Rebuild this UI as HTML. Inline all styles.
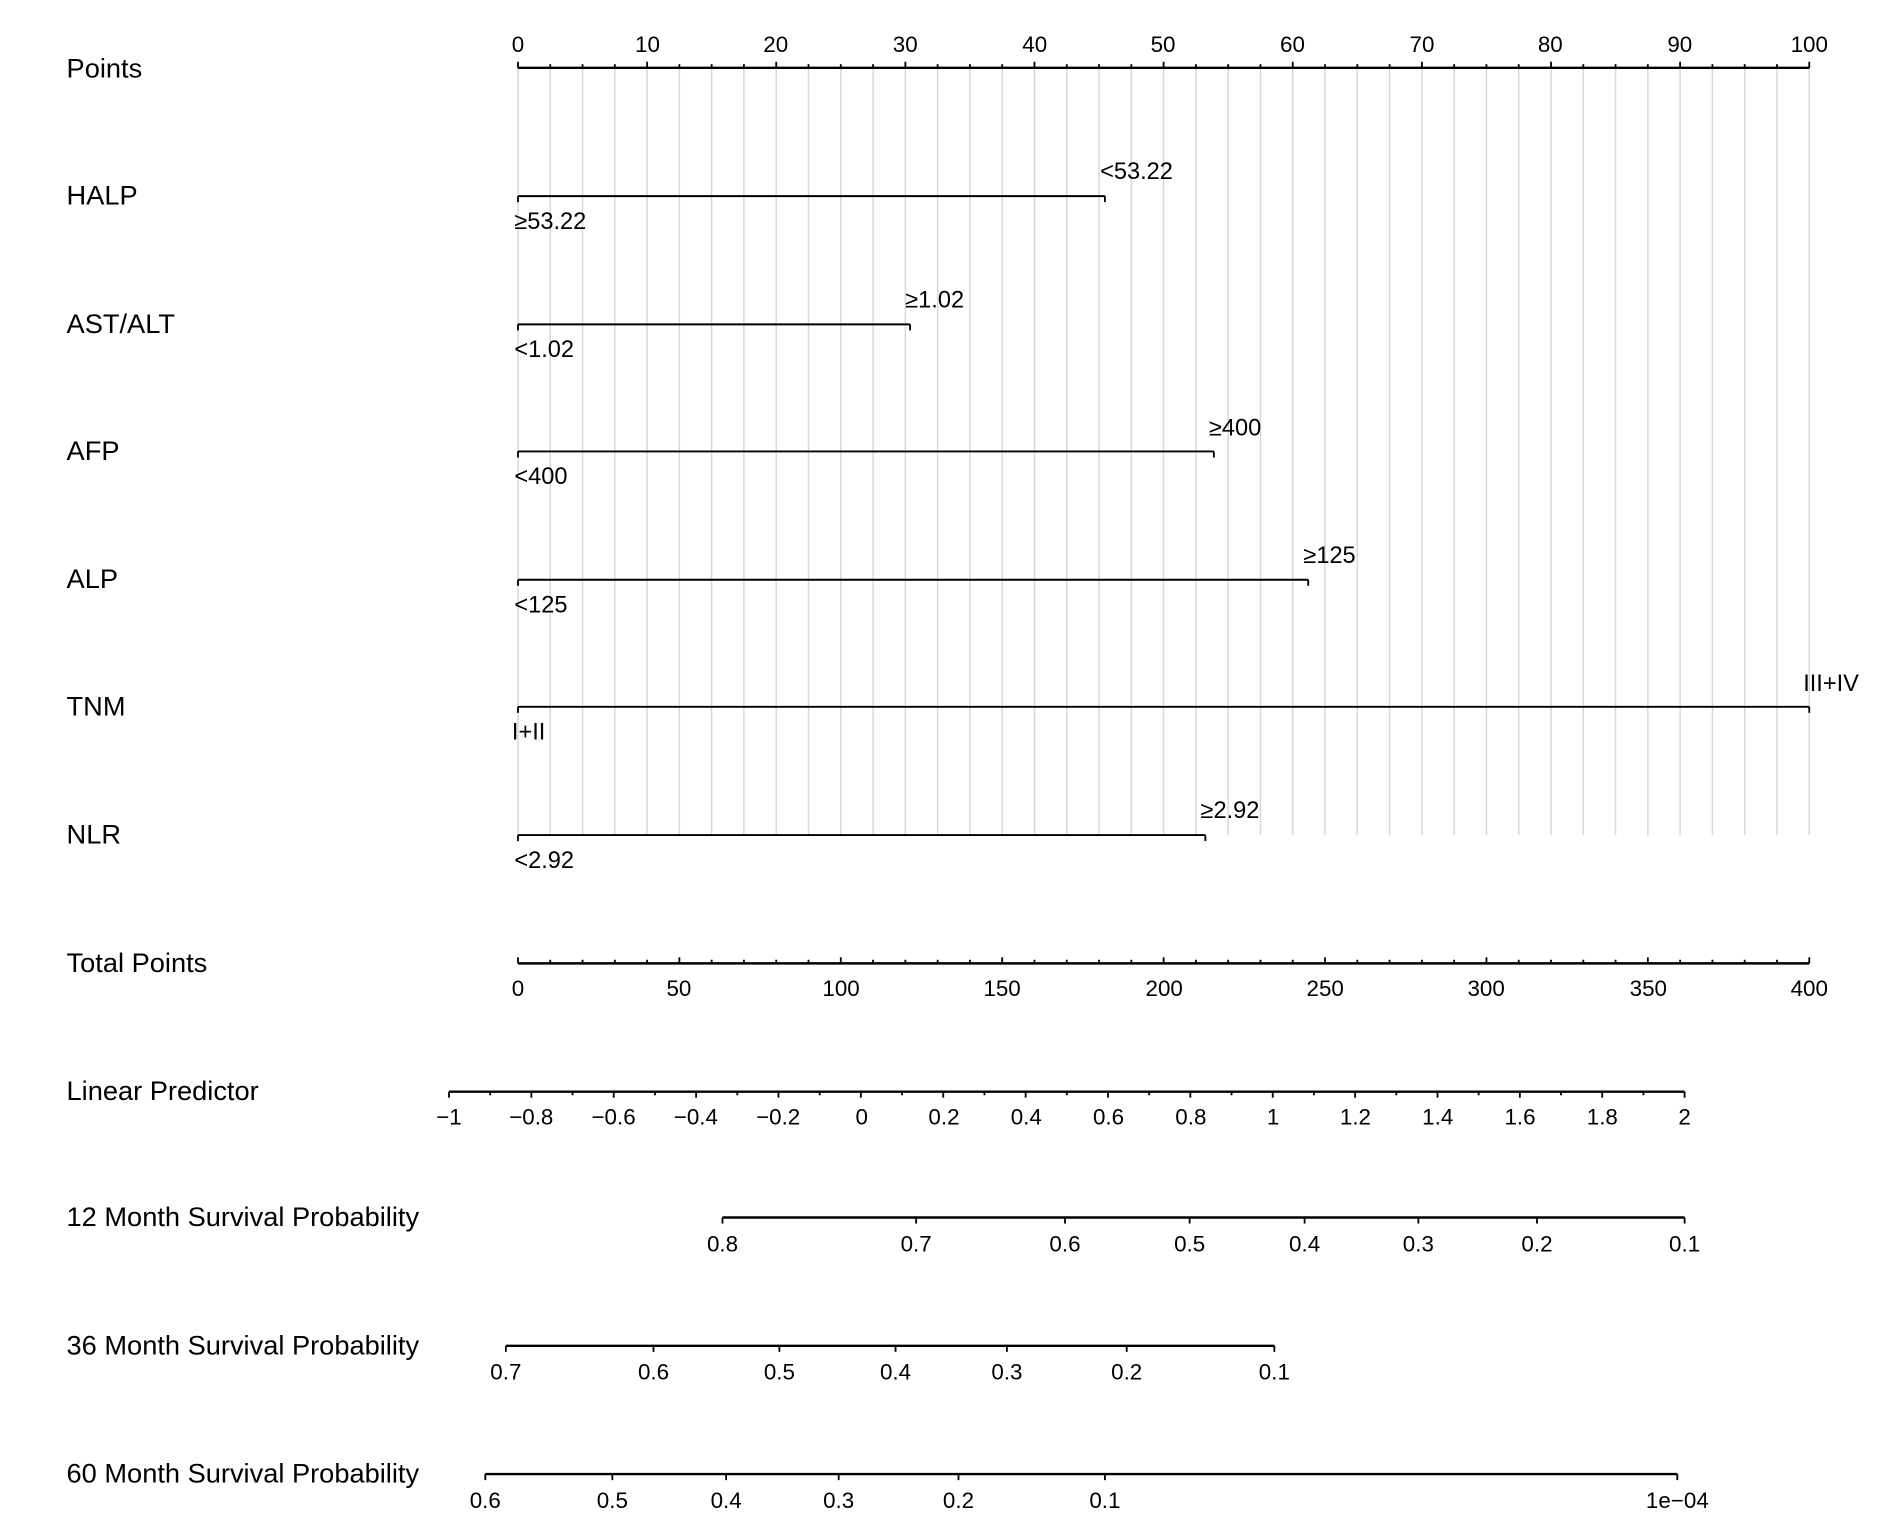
<!DOCTYPE html>
<html><head><meta charset="utf-8"><style>
html,body{margin:0;padding:0;background:#fff;width:1897px;height:1535px;overflow:hidden}
svg{display:block}
.lab{font-family:"Liberation Sans",Arial,sans-serif;font-size:22.5px;fill:#000}
.t{font-family:"Liberation Sans",Arial,sans-serif;font-size:18.5px;fill:#000;text-anchor:middle}
.v{font-family:"Liberation Sans","Noto Sans CJK SC",sans-serif;font-size:19.5px;fill:#000}
</style></head><body>
<svg width="1897" height="1535" viewBox="0 0 1567.5 1268.3" xmlns="http://www.w3.org/2000/svg">
<g id="grid" stroke="#d8d8d8" stroke-width="1.2"></g>
<g id="ax" stroke="#000" stroke-width="2" fill="none"></g>

<text class="lab" x="55" y="64">Points</text>
<text class="lab" x="55" y="169">HALP</text>
<text class="lab" x="55" y="275">AST/ALT</text>
<text class="lab" x="55" y="380">AFP</text>
<text class="lab" x="55" y="486">ALP</text>
<text class="lab" x="55" y="591">TNM</text>
<text class="lab" x="55" y="697">NLR</text>
<text class="lab" x="55" y="803">Total Points</text>
<text class="lab" x="55" y="909">Linear Predictor</text>
<text class="lab" x="55" y="1013">12 Month Survival Probability</text>
<text class="lab" x="55" y="1119">36 Month Survival Probability</text>
<text class="lab" x="55" y="1225">60 Month Survival Probability</text>

<g class="t">
<text x="428" y="43">0</text><text x="535" y="43">10</text><text x="641" y="43">20</text><text x="748" y="43">30</text><text x="855" y="43">40</text><text x="961" y="43">50</text><text x="1068" y="43">60</text><text x="1175" y="43">70</text><text x="1281" y="43">80</text><text x="1388" y="43">90</text><text x="1495" y="43">100</text>
<text x="428" y="823">0</text><text x="561" y="823">50</text><text x="695" y="823">100</text><text x="828" y="823">150</text><text x="962" y="823">200</text><text x="1095" y="823">250</text><text x="1228" y="823">300</text><text x="1362" y="823">350</text><text x="1495" y="823">400</text>
<text x="371" y="929">−1</text><text x="439" y="929">−0.8</text><text x="507" y="929">−0.6</text><text x="575" y="929">−0.4</text><text x="643" y="929">−0.2</text><text x="712" y="929">0</text><text x="780" y="929">0.2</text><text x="848" y="929">0.4</text><text x="916" y="929">0.6</text><text x="984" y="929">0.8</text><text x="1052" y="929">1</text><text x="1120" y="929">1.2</text><text x="1188" y="929">1.4</text><text x="1256" y="929">1.6</text><text x="1324" y="929">1.8</text><text x="1392" y="929">2</text>
<text x="597" y="1034">0.8</text><text x="757" y="1034">0.7</text><text x="880" y="1034">0.6</text><text x="983" y="1034">0.5</text><text x="1078" y="1034">0.4</text><text x="1172" y="1034">0.3</text><text x="1270" y="1034">0.2</text><text x="1392" y="1034">0.1</text>
<text x="418" y="1140">0.7</text><text x="540" y="1140">0.6</text><text x="644" y="1140">0.5</text><text x="740" y="1140">0.4</text><text x="832" y="1140">0.3</text><text x="931" y="1140">0.2</text><text x="1053" y="1140">0.1</text>
<text x="401" y="1246">0.6</text><text x="506" y="1246">0.5</text><text x="600" y="1246">0.4</text><text x="693" y="1246">0.3</text><text x="792" y="1246">0.2</text><text x="913" y="1246">0.1</text><text x="1386" y="1246">1e−04</text>
</g>

<g class="v">
<text x="909" y="148">&lt;53.22</text><text x="425" y="189">≥53.22</text>
<text x="748" y="254">≥1.02</text><text x="425" y="295">&lt;1.02</text>
<text x="999" y="360">≥400</text><text x="425" y="400">&lt;400</text>
<text x="1077" y="465">≥125</text><text x="425" y="506">&lt;125</text>
<text x="1490" y="571">III+IV</text><text x="423" y="611">I+II</text>
<text x="992" y="676">≥2.92</text><text x="425" y="717">&lt;2.92</text>
</g>

<script>
var ns="http://www.w3.org/2000/svg";
function L(g,x1,y1,x2,y2,w){var l=document.createElementNS(ns,"line");l.setAttribute("x1",x1);l.setAttribute("y1",y1);l.setAttribute("x2",x2);l.setAttribute("y2",y2);if(w)l.setAttribute("stroke-width",w);document.getElementById(g).appendChild(l);}
var x0=428,x1=1495;
for(var i=0;i<=40;i++){var x=x0+(x1-x0)*i/40;L("grid",x,56,x,690);L("ax",x,56,x,i%4==0?51:53,1.5);}
L("ax",x0,56,x1,56);
var rows=[[162,913],[268,752],[373,1003],[479,1081],[584,1495],[690,996]];
rows.forEach(function(r){L("ax",x0,r[0],r[1],r[0],1.6);L("ax",x0,r[0],x0,r[0]+5,1.5);L("ax",r[1],r[0],r[1],r[0]+5,1.5);});
L("ax",x0,796,x1,796);
for(var i=0;i<=40;i++){var x=x0+(x1-x0)*i/40;L("ax",x,796,x,i%5==0?791:793,1.5);}
L("ax",371,902,1392,902);
for(var i=0;i<=30;i++){var x=371+(1392-371)*i/30;L("ax",x,902,x,i%2==0?907:905,1.5);}
function P(y,xs){L("ax",xs[0],y,xs[xs.length-1],y);xs.forEach(function(x){L("ax",x,y,x,y+5,1.5);});}
P(1006,[597,757,880,983,1078,1172,1270,1392]);
P(1112,[418,540,644,740,832,931,1053]);
P(1218,[401,506,600,693,792,913,1386]);
</script>
</svg>
</body></html>
